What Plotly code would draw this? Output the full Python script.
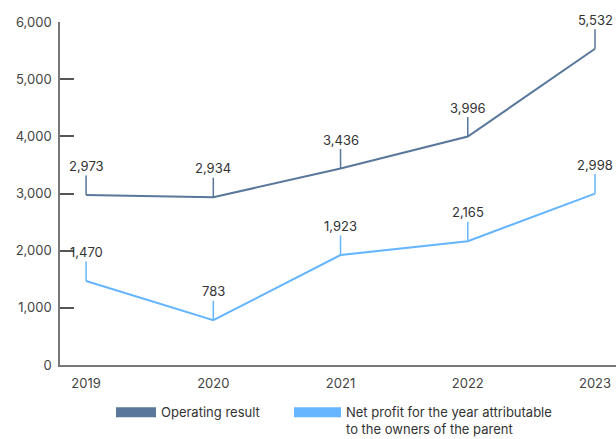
import plotly.graph_objects as go

years = ["2019", "2020", "2021", "2022", "2023"]
operating_result = [2973, 2934, 3436, 3996, 5532]
net_profit = [1470, 783, 1923, 2165, 2998]

op_color = "#58779a"
np_color = "#66b5ff"
font = "Inter, Roboto, sans-serif"

fig = go.Figure()

# actual series (legend handled by dummy traces so the keys are rectangles)
fig.add_trace(go.Scatter(x=years, y=operating_result, mode="lines",
                         line=dict(color=op_color, width=2), showlegend=False,
                         hoverinfo="skip"))
fig.add_trace(go.Scatter(x=years, y=net_profit, mode="lines",
                         line=dict(color=np_color, width=2), showlegend=False,
                         hoverinfo="skip"))

fig.add_trace(go.Scatter(x=[years[0]], y=[None], mode="lines", name="Operating result",
                         line=dict(color=op_color, width=10), legend="legend"))
fig.add_trace(go.Scatter(x=[years[0]], y=[None], mode="lines",
                         name="Net profit for the year attributable<br>to the owners of the parent",
                         line=dict(color=np_color, width=10), legend="legend2"))

annotations = []
for series, color in [(operating_result, op_color), (net_profit, np_color)]:
    for i, v in enumerate(series):
        annotations.append(dict(x=i, y=v, xref="x", yref="y", text=f"{v:,}",
                                showarrow=True, arrowhead=0, arrowwidth=1.5,
                                arrowcolor=color, ax=0, ay=-29,
                                font=dict(family=font, size=13, color="#333333")))

legend_style = dict(orientation="h", xref="container", yref="container",
                    y=0.095, xanchor="left", yanchor="top", valign="top",
                    bgcolor="rgba(0,0,0,0)",
                    font=dict(family=font, size=13, color="#333333"))

fig.update_layout(
    width=616, height=439,
    margin=dict(l=60, r=0, t=22, b=74),
    paper_bgcolor="white", plot_bgcolor="white",
    font=dict(family=font, size=13, color="#444444"),
    showlegend=True,
    annotations=annotations,
    legend=dict(x=111 / 616, itemwidth=40, **legend_style),
    legend2=dict(x=289 / 616, itemwidth=47, **legend_style),
    xaxis=dict(type="category", range=[-0.205, 4.165], showgrid=False,
               showline=True, linecolor="#777777", linewidth=1.5, ticks="",
               ticklabelstandoff=6, zeroline=False),
    yaxis=dict(range=[0, 6000], tickvals=[0, 1000, 2000, 3000, 4000, 5000, 6000],
               tickformat=",", showgrid=False, showline=True, linecolor="#777777",
               linewidth=1.5, ticks="inside", ticklen=14, tickcolor="#555555",
               tickwidth=1.5, zeroline=False, ticklabelstandoff=4),
)

fig.write_html("out.html", config={"displayModeBar": False},
               post_script="document.body.style.margin='0';")
